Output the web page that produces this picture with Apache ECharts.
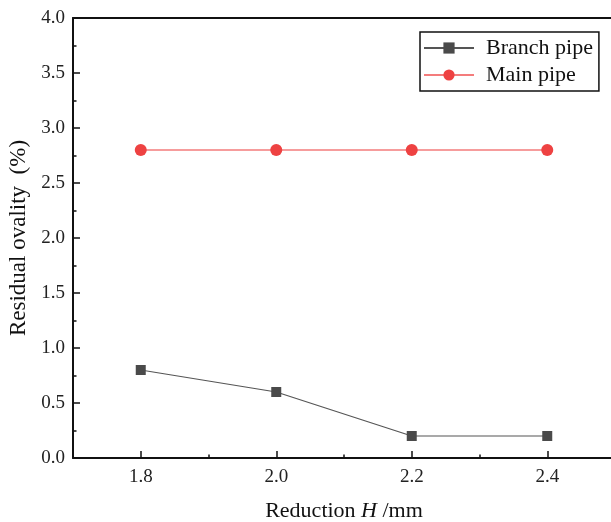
<!DOCTYPE html>
<html>
<head>
<meta charset="utf-8">
<script src="https://cdn.jsdelivr.net/npm/echarts@6/dist/echarts.min.js"></script>
<style>
  html, body { margin: 0; padding: 0; background: #fff; }
  #chart { width: 611px; height: 522px; }
</style>
</head>
<body>
<div id="chart"></div>
<script>
// Reduction H (mm)
const reductions = [1.8, 2.0, 2.2, 2.4];
// Residual ovality (%)
const branchPipe = [0.8, 0.6, 0.2, 0.2];
const mainPipe = [2.8, 2.8, 2.8, 2.8];
// Axis ticks
const xMajorTicks = [1.8, 2.0, 2.2, 2.4];
const xMinorTicks = [1.9, 2.1, 2.3];

const FONT = '"Liberation Serif", "Times New Roman", serif';
const AXIS_COLOR = '#111';

const pairs = (xs, ys) => xs.map((x, i) => [x, ys[i]]);

const chart = echarts.init(document.getElementById('chart'), null, { renderer: 'canvas' });

chart.setOption({
  backgroundColor: '#fff',
  animation: false,
  grid: { left: 73, top: 18, right: -4, bottom: 64, containLabel: false, outerBoundsMode: 'none' },
  legend: {
    left: 420,
    top: 32,
    orient: 'vertical',
    itemWidth: 50,
    itemHeight: 14,
    itemGap: 5,
    itemTextGap: 13,
    padding: [5, 6, 5, 3],
    borderColor: '#111',
    borderWidth: 1.5,
    borderRadius: 0,
    textStyle: { fontFamily: FONT, fontSize: 22, color: '#111', padding: [0, 0, 0, 7] },
    data: ['Branch pipe', 'Main pipe']
  },
  xAxis: [
    {
      type: 'value',
      position: 'bottom',
      min: 1.7,
      max: 2.5,
      splitLine: { show: false },
      axisLine: { show: true, onZero: false, lineStyle: { color: AXIS_COLOR, width: 2 } },
      axisTick: {
        show: true, inside: true, length: 7, customValues: xMajorTicks,
        lineStyle: { color: AXIS_COLOR, width: 1.5 }
      },
      axisLabel: {
        customValues: xMajorTicks, margin: 10,
        fontFamily: FONT, fontSize: 19, color: '#222',
        formatter: v => v.toFixed(1)
      },
      name: '{a|Reduction }{b|H}{a| /mm}',
      nameLocation: 'middle',
      nameGap: 42,
      nameTextStyle: {
        rich: {
          a: { fontFamily: FONT, fontSize: 22, color: '#111' },
          b: { fontFamily: FONT, fontSize: 22, color: '#111', fontStyle: 'italic' }
        }
      }
    },
    {
      // minor ticks between labelled values
      type: 'value',
      position: 'bottom',
      min: 1.7,
      max: 2.5,
      splitLine: { show: false },
      axisLine: { show: false },
      axisTick: {
        show: true, inside: true, length: 3.5, customValues: xMinorTicks,
        lineStyle: { color: AXIS_COLOR, width: 1.5 }
      },
      axisLabel: { show: false }
    },
    {
      // top frame line
      type: 'value',
      position: 'top',
      min: 1.7,
      max: 2.5,
      splitLine: { show: false },
      axisLine: { show: true, onZero: false, lineStyle: { color: AXIS_COLOR, width: 2 } },
      axisTick: { show: false },
      axisLabel: { show: false }
    }
  ],
  yAxis: {
    type: 'value',
    min: 0,
    max: 4,
    interval: 0.5,
    splitLine: { show: false },
    axisLine: { show: true, onZero: false, lineStyle: { color: AXIS_COLOR, width: 2 } },
    axisTick: { show: true, inside: true, length: 7, lineStyle: { color: AXIS_COLOR, width: 1.5 } },
    minorTick: { show: true, splitNumber: 2, length: 3.5, lineStyle: { color: AXIS_COLOR, width: 1.5 } },
    axisLabel: {
      margin: 8, fontFamily: FONT, fontSize: 19, color: '#222',
      formatter: v => v.toFixed(1)
    },
    name: 'Residual ovality  (%)',
    nameLocation: 'middle',
    nameGap: 43,
    nameTextStyle: { fontFamily: FONT, fontSize: 23, color: '#111' }
  },
  series: [
    {
      name: 'Branch pipe',
      type: 'line',
      xAxisIndex: 0,
      data: pairs(reductions, branchPipe),
      symbol: 'rect',
      symbolSize: 10,
      itemStyle: { color: '#4a4a4a' },
      lineStyle: { color: '#555', width: 1.2 }
    },
    {
      name: 'Main pipe',
      type: 'line',
      xAxisIndex: 0,
      data: pairs(reductions, mainPipe),
      symbol: 'circle',
      symbolSize: 12,
      itemStyle: { color: '#ee4242' },
      lineStyle: { color: '#f47c7c', width: 1.5 }
    }
  ]
});
</script>
</body>
</html>
